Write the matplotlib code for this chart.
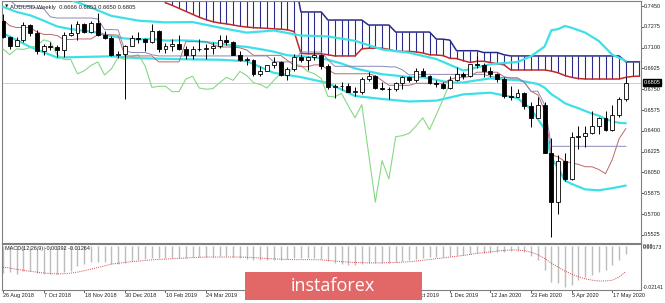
import numpy as np
import matplotlib
matplotlib.use("Agg")
import matplotlib.pyplot as plt
from matplotlib.patches import Rectangle

# ---------------- data (weekly AUDUSD) ----------------
opens = [0.7325,0.7190,0.7115,0.7160,0.7290,0.7225,0.7075,0.7115,0.7105,0.7080,
         0.7210,0.7220,0.7295,0.7230,0.7310,0.7210,0.7180,0.7040,0.7045,0.7115,
         0.7185,0.7170,0.7150,0.7240,0.7090,0.7115,0.7130,0.7090,0.7040,0.7090,
         0.7085,0.7100,0.7115,0.7165,0.7150,0.7040,0.7000,0.7000,0.6880,0.6905,
         0.6950,0.6980,0.6870,0.6920,0.7020,0.7000,0.7025,0.7040,0.6945,0.6765,
         0.6775,0.6775,0.6730,0.6730,0.6835,0.6860,0.6760,0.6750,0.6755,0.6805,
         0.6850,0.6825,0.6900,0.6865,0.6805,0.6790,0.6760,0.6825,0.6880,0.6860,
         0.6960,0.6950,0.6900,0.6880,0.6840,0.6690,0.6685,0.6715,0.6610,0.6510,
         0.6620,0.6210,0.5800,0.6150,0.5995,0.6350,0.6360,0.6380,0.6440,0.6510,
         0.6410,0.6535,0.6666]
highs = [0.7382,0.7200,0.7190,0.7315,0.7297,0.7250,0.7130,0.7150,0.7125,0.7235,
         0.7300,0.7325,0.7305,0.7320,0.7395,0.7240,0.7200,0.7070,0.7120,0.7205,
         0.7235,0.7180,0.7295,0.7245,0.7140,0.7170,0.7205,0.7110,0.7110,0.7170,
         0.7130,0.7145,0.7205,0.7205,0.7155,0.7070,0.7020,0.7005,0.6945,0.6955,
         0.7020,0.6990,0.6940,0.7050,0.7050,0.7030,0.7080,0.7045,0.6965,0.6790,
         0.6815,0.6800,0.6770,0.6850,0.6895,0.6870,0.6810,0.6770,0.6810,0.6860,
         0.6865,0.6930,0.6930,0.6870,0.6830,0.6810,0.6860,0.6940,0.6895,0.6960,
         0.7030,0.6970,0.6935,0.6890,0.6850,0.6775,0.6750,0.6725,0.6640,0.6685,
         0.6640,0.6340,0.6200,0.6210,0.6390,0.6445,0.6445,0.6570,0.6520,0.6570,
         0.6617,0.6685,0.6853]
lows = [0.7185,0.7085,0.7110,0.7145,0.7195,0.7050,0.7040,0.7080,0.7020,0.7020,
        0.7195,0.7165,0.7220,0.7220,0.7195,0.7170,0.7030,0.7015,0.6665,0.7110,
        0.7140,0.7075,0.7140,0.7060,0.7055,0.7070,0.7080,0.7005,0.7005,0.7070,
        0.7005,0.7050,0.7095,0.7125,0.7035,0.6990,0.6955,0.6865,0.6865,0.6900,
        0.6930,0.6865,0.6830,0.6905,0.6975,0.6910,0.6995,0.6920,0.6750,0.6680,
        0.6745,0.6730,0.6690,0.6710,0.6820,0.6755,0.6745,0.6670,0.6735,0.6755,
        0.6810,0.6810,0.6860,0.6790,0.6770,0.6755,0.6755,0.6820,0.6835,0.6855,
        0.6930,0.6850,0.6850,0.6815,0.6680,0.6660,0.6685,0.6585,0.6435,0.6505,
        0.6210,0.5510,0.5700,0.5980,0.5985,0.6250,0.6265,0.6370,0.6370,0.6400,
        0.6400,0.6520,0.6650]
closes = [0.7190,0.7115,0.7160,0.7290,0.7225,0.7075,0.7115,0.7105,0.7080,0.7210,
          0.7220,0.7295,0.7230,0.7310,0.7210,0.7180,0.7040,0.7045,0.7115,0.7185,
          0.7170,0.7150,0.7240,0.7090,0.7115,0.7130,0.7090,0.7040,0.7090,0.7085,
          0.7100,0.7115,0.7165,0.7150,0.7040,0.7000,0.7000,0.6880,0.6905,0.6950,
          0.6980,0.6870,0.6920,0.7020,0.7000,0.7025,0.7040,0.6945,0.6765,0.6775,
          0.6775,0.6730,0.6730,0.6835,0.6860,0.6760,0.6750,0.6755,0.6805,0.6850,
          0.6825,0.6900,0.6865,0.6805,0.6790,0.6760,0.6825,0.6880,0.6860,0.6960,
          0.6950,0.6900,0.6880,0.6840,0.6690,0.6685,0.6715,0.6610,0.6510,0.6620,
          0.6210,0.5800,0.6150,0.5995,0.6350,0.6360,0.6380,0.6440,0.6510,0.6410,
          0.6535,0.6665,0.6805]

# Bollinger bands: vertices (bar index, price)
bb_mid_x = [0,2,4,6,8,10,12,14,16,18,20,22,24,26,28,30,32,34,36,38,40,42,44,46,48,50,52,54,56,58,60,62,
            64,66,68,70,72,74,76,78,79,80,81,82,83,84,85,86,87,88,89,90,91,92]
bb_mid_y = [0.7443,0.7400,0.7372,0.7327,0.7278,0.7256,0.7241,0.7226,0.7197,0.7177,0.7169,0.7174,0.7159,
            0.7161,0.7158,0.7146,0.7133,0.7117,0.7106,0.7087,0.7066,0.7036,0.7027,0.7019,0.6998,0.6966,
            0.6925,0.6900,0.6876,0.6865,0.6852,0.6851,0.6829,0.6805,0.6807,0.6825,0.6841,0.6833,0.6827,
            0.6805,0.6794,0.6763,0.6708,0.6672,0.6632,0.6610,0.6590,0.6567,0.6545,0.6528,0.6500,0.6479,
            0.6468,0.6464]
bb_up_x = [0,4,8,12,16,20,24,28,32,36,40,44,48,52,56,60,64,68,72,76,78,80,81,82,83,84,86,88,90,92]
bb_up_y = [0.7665,0.7638,0.7540,0.7460,0.7367,0.7327,0.7312,0.7315,0.7268,0.7226,0.7244,0.7202,0.7194,
           0.7157,0.7084,0.7057,0.7004,0.6907,0.6961,0.6979,0.7028,0.7109,0.7246,0.7256,0.7282,0.7267,
           0.7226,0.7156,0.7040,0.6988]
bb_lo_x = [0,4,8,12,16,20,24,28,32,36,40,44,48,52,56,60,64,68,72,76,78,80,81,82,83,84,86,88,90,92]
bb_lo_y = [0.7221,0.7106,0.7016,0.7022,0.7027,0.7011,0.7006,0.7001,0.6998,0.6986,0.6888,0.6852,0.6802,
           0.6693,0.6668,0.6647,0.6654,0.6707,0.6721,0.6675,0.6582,0.6417,0.6170,0.6088,0.5982,0.5953,
           0.5908,0.5900,0.5918,0.5940]

# Ichimoku Tenkan-sen (bars 0..92) and Kijun-sen (bars 0..92)
tenkan = [0.7334,0.7284,0.7269,0.7269,0.7269,0.7233,0.7211,0.7211,0.7201,0.7168,0.7168,0.7173,0.7173,
          0.7173,0.7208,0.7208,0.7208,0.7205,0.7030,0.7030,0.7030,0.7030,0.7030,0.6980,0.6980,0.6980,
          0.6980,0.7150,0.7150,0.7150,0.7150,0.7125,0.7105,0.7105,0.7105,0.7098,0.7080,0.7035,0.7035,
          0.7035,0.7035,0.7035,0.6993,0.6950,0.6940,0.6940,0.6955,0.6955,0.6915,0.6880,0.6880,0.6880,
          0.6880,0.6880,0.6880,0.6863,0.6823,0.6783,0.6783,0.6783,0.6783,0.6800,0.6800,0.6800,0.6800,
          0.6800,0.6833,0.6848,0.6848,0.6858,0.6893,0.6893,0.6893,0.6893,0.6855,0.6845,0.6845,0.6808,
          0.6733,0.6703,0.6573,0.6200,0.6180,0.6143,0.6130,0.6118,0.6098,0.6098,0.6075,0.6040,0.6159,
          0.6333,0.6419]
kijun = [0.7551,0.7501,0.7449,0.7449,0.7449,0.7432,0.7427,0.7359,0.7349,0.7349,0.7349,0.7349,0.7349,
         0.7349,0.7340,0.7252,0.7252,0.7249,0.7074,0.7059,0.7059,0.7059,0.7040,0.7030,0.7030,0.7030,
         0.7030,0.7030,0.7030,0.7030,0.7030,0.7030,0.7030,0.7030,0.7030,0.7030,0.7030,0.7030,0.7030,
         0.7030,0.6980,0.6980,0.6980,0.6980,0.7063,0.7063,0.7063,0.7063,0.6998,0.6943,0.6943,0.6943,
         0.6943,0.6943,0.6943,0.6943,0.6943,0.6938,0.6938,0.6913,0.6870,0.6875,0.6875,0.6875,0.6875,
         0.6875,0.6875,0.6875,0.6875,0.6875,0.6875,0.6875,0.6858,0.6850,0.6850,0.6845,0.6845,0.6808,
         0.6733,0.6733,0.6620,0.6270,0.6270,0.6270,0.6270,0.6270,0.6270,0.6270,0.6270,0.6270,0.6270,
         0.6270,0.6270]

# Ichimoku cloud per bar (bars 24..94): Senkou span B (upper) / span A (lower)
cloud_start = 24
span_top = [0.77]*20 + [0.7400]*4 + [0.7332]*6 + [0.7290]*4 + [0.7231]*6 + \
           [0.7172,0.7171,0.7163,0.7074,0.7074,0.7074,0.7074,0.7059,0.7059,0.7059,0.7040] + \
           [0.7030]*17 + [0.6980]*3
span_bot = [0.7478,0.7455,0.7430,0.7405,0.7380,0.7355,0.7335,0.7318,0.7307,0.7300,
            0.7290,0.7280,0.7273,0.7268,0.7265,0.7262,0.7258,0.7255,0.7250,0.7235,
            0.7052,0.7048,0.7048,0.7048,0.7040,0.7030,0.7030,0.7030,0.7030,0.7090,
            0.7095,0.7095,0.7095,0.7085,0.7070,0.7068,0.7068,0.7064,0.7055,0.7040,
            0.7038,0.7033,0.7010,0.7008,0.6990,0.6975,0.6985,0.6985,0.6975,0.6965,
            0.6955,0.6912,0.6912,0.6912,0.6912,0.6912,0.6912,0.6903,0.6888,0.6865,
            0.6850,0.6840,0.6836,0.6836,0.6836,0.6836,0.6836,0.6836,0.6850,0.6858,0.6860]

# MACD (x 0.001)
macd_main = [-13.5,-13,-14,-12.5,-12.5,-13.5,-14,-14,-14,-13,-12.5,-10,-9,
             -8,-8,-8,-9,-9,-8.5,-7.5,-7,
             -6.5,-6,-6,-6,-6,-6,-6,-5.5,-5.5,-5.5,-5.5,-5,-5,-5.5,-6,-6.5,
             -7,-7,-7,-7,-7,-6.5,-6,-6,-6,-6,-6.5,-7.5,
             -8.5,-9,-9.5,-9.5,-9,-8.5,-8.5,-8.5,-8.5,-8,
             -7.5,-7,-6.5,-6,-5.5,-5.5,-5.5,-5,-4.5,-4.5,-4,-3.5,-3.5,-3.5,
             -3,-3,-2.5,-2.5,-3,-5,-7,-12,
             -18,-18.5,-20.4,-19.5,-17,-15.5,-14.5,-13,-12,-9.5,-7,-3.92]
macd_sig = [-10.5,-11,-11.6,-12.1,-12.6,-13,-13.4,-13.7,-13.9,
            -13.8,-13.5,-13,-12.3,-11.5,-10.7,-9.9,-9,
            -8.6,-8.2,-7.8,-7.5,-7.2,-6.9,-6.7,-6.5,
            -6.3,-6.1,-6,-5.8,-5.6,-5.5,-5.5,-5.5,-5.5,-5.5,-5.5,-5.6,-5.8,
            -6,-6.2,-6.4,-6.6,-6.7,-6.8,-6.8,-6.8,-6.8,-6.9,-7.2,
            -7.5,-7.8,-8,-8.2,-8.3,-8.4,-8.4,-8.4,-8.3,-8.2,
            -8,-7.8,-7.5,-7.1,-6.7,-6.3,-5.9,-5.5,-5.1,-4.7,-4.2,-3.7,
            -3.3,-2.9,-2.5,-2.2,-2,-2,-2.3,-3.1,-4.3,-6.2,
            -8.5,-10.5,-12.5,-14,-15.3,-16.3,-17,-17.4,-17.4,-17,-15.5,-12.64]

date_labels = ['26 Aug 2018','7 Oct 2018','18 Nov 2018','30 Dec 2018','10 Feb 2019','24 Mar 2019',
               '5 May 2019','16 Jun 2019','28 Jul 2019','8 Sep 2019','20 Oct 2019','1 Dec 2019',
               '12 Jan 2020','23 Feb 2020','5 Apr 2020','17 May 2020']
price_ticks = [0.7450,0.7275,0.7100,0.6925,0.6750,0.6575,0.6400,0.6225,0.6050,0.5875,0.5700,0.5525]
last_price = 0.6805
macd_max, macd_min = 0.00173, -0.02141

# ---------------- figure ----------------
W, H = 665, 303
fig = plt.figure(figsize=(W/100, H/100), dpi=100)
fig.patch.set_facecolor('white')

def rect(x0, y0, x1, y1):
    return [x0/W, 1-y1/H, (x1-x0)/W, (y1-y0)/H]

FONT = 'Liberation Sans'
fs = 4.0
ax = fig.add_axes(rect(2, 1, 641, 243))
axm = fig.add_axes(rect(2, 244, 641, 290))

n = len(closes)
idx = np.arange(n)
x0, x1 = -0.15, 94.24
for a in (ax, axm):
    a.set_xlim(x0, x1)
    a.set_facecolor('white')
    for s in a.spines.values():
        s.set_color('#808080'); s.set_linewidth(0.8)
ax.set_ylim(0.54568, 0.74921)
MY0, MY1 = -0.0219, 0.0010
axm.set_ylim(MY0, MY1)

# cloud hatches
cx = np.arange(cloud_start, cloud_start+len(span_top))
ax.vlines(cx, span_bot, span_top, color='#2a2a8a', lw=0.8, zorder=1)
ax.plot(cx, span_top, color='#2a2a8a', lw=1.1, zorder=2)
ax.plot(cx, span_bot, color='#c0282a', lw=1.1, zorder=2)

# last price line
ax.axhline(last_price, color='#c8c8c8', lw=0.6, zorder=0)

# bollinger
for xs, ys in ((bb_up_x, bb_up_y), (bb_mid_x, bb_mid_y), (bb_lo_x, bb_lo_y)):
    ax.plot(xs, ys, color='#3ee0e8', lw=1.6, zorder=3, solid_capstyle='round')

# chikou (close shifted back 26 bars), tenkan, kijun
ax.plot(idx[:n-26], closes[26:], color='#86d886', lw=0.8, zorder=3)
ax.plot(idx, tenkan, color='#b86a6a', lw=0.7, zorder=3)
ax.plot(idx, kijun, color='#8a88b8', lw=0.7, zorder=3)

# candles
o = np.array(opens); c = np.array(closes); h = np.array(highs); l = np.array(lows)
ax.vlines(idx, l, h, color='black', lw=0.7, zorder=4)
up = c >= o
bottoms = np.minimum(o, c); heights = np.maximum(np.abs(c-o), 0.00015)
ax.bar(idx[up], heights[up], bottom=bottoms[up], width=0.58, color='white', edgecolor='black', lw=0.6, zorder=5)
ax.bar(idx[~up], heights[~up], bottom=bottoms[~up], width=0.58, color='black', edgecolor='black', lw=0.6, zorder=5)

# MACD
axm.vlines(idx, 0, np.array(macd_main)/1000, color='#bcbcbc', lw=1.0)
axm.plot(idx, np.array(macd_sig)/1000, color='#d04848', lw=0.7, ls=(0, (1, 1.2)))

for a in (ax, axm):
    a.set_xticks([]); a.set_yticks([])

# right price axis labels
for p in price_ticks:
    ax.annotate(f'{p:.4f}', xy=(1, p), xycoords=('axes fraction', 'data'), xytext=(2.2, 0),
                textcoords='offset points', va='center', ha='left', fontsize=fs, family=FONT, color='#202020')
    ax.plot([x1, x1+0.35], [p, p], color='#404040', lw=0.6, clip_on=False)
ax.annotate(f'{last_price:.4f}', xy=(1, last_price), xycoords=('axes fraction', 'data'), xytext=(1.8, 0),
            textcoords='offset points', va='center', ha='left', fontsize=fs, family=FONT, color='white',
            bbox=dict(boxstyle='square,pad=0.15', fc='black', ec='black'))

axm.annotate(f'{macd_max:.5f}', xy=(1, 1), xycoords='axes fraction', xytext=(1.4, -2.6),
             textcoords='offset points', va='center', ha='left', fontsize=3.8, family=FONT, color='#202020')
axm.annotate('0.00', xy=(1, 1), xycoords='axes fraction', xytext=(1.4, -2.0),
             textcoords='offset points', va='center', ha='left', fontsize=3.8, family=FONT, color='#202020')
axm.annotate(f'{macd_min:.5f}', xy=(1, 0), xycoords='axes fraction', xytext=(1.0, 2),
             textcoords='offset points', va='center', ha='left', fontsize=3.8, family=FONT, color='#202020')

# date labels
for k, lab in enumerate(date_labels):
    xb = 6*k
    axm.plot([xb, xb], [MY0, MY0-0.0012], color='#404040', lw=0.6, clip_on=False)
    axm.annotate(lab, xy=(xb, 0), xycoords=('data', 'axes fraction'), xytext=(0.2, -4.0),
                 textcoords='offset points', va='center', ha='left', fontsize=fs, family=FONT, color='#202020')

# headers
ax.text(0.004, 0.985, '\u25bc', transform=ax.transAxes, fontsize=3.2, va='top', ha='left', color='#202020', family='DejaVu Sans')
ax.text(0.013, 0.985, 'AUDUSD,Weekly  0.6666 0.6853 0.6650 0.6805', transform=ax.transAxes, fontsize=4.2,
        va='top', ha='left', color='#202020', family=FONT)
axm.text(0.004, 0.96, 'MACD(12,26,9) -0.00392 -0.01264', transform=axm.transAxes, fontsize=fs,
         va='top', ha='left', color='#202020', family=FONT)

# watermark
fig.patches.append(Rectangle((245/W, 1-300/H), 177/W, 28/H, transform=fig.transFigure,
                             facecolor='#e26868', edgecolor='none', zorder=10))
fig.text(333/W, 1-286/H, 'instaforex', fontsize=13, color='white', ha='center', va='center',
         family='Open Sans', zorder=11)

fig.savefig('out.png', dpi=100)
